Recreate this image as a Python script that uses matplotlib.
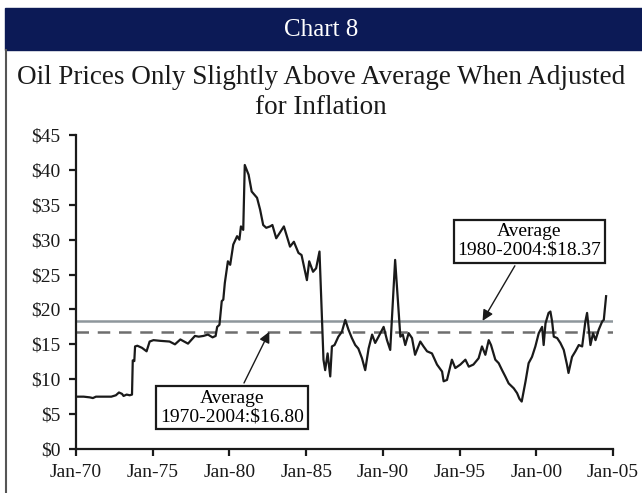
import matplotlib.pyplot as plt
from matplotlib.patches import Rectangle
from matplotlib.lines import Line2D

year = [1970.0, 1970.5, 1970.9, 1971.1, 1971.3, 1971.8, 1972.3, 1972.6, 1972.8, 1973.0,
        1973.1, 1973.3, 1973.5, 1973.65, 1973.7, 1973.8, 1973.85, 1974.0, 1974.3, 1974.6,
        1974.8, 1975.05, 1975.5, 1976.1, 1976.45, 1976.8, 1977.3, 1977.75, 1978.0, 1978.3,
        1978.6, 1978.9, 1979.1, 1979.2, 1979.35, 1979.5, 1979.6, 1979.7, 1979.9, 1980.05,
        1980.25, 1980.5, 1980.65, 1980.75, 1980.9, 1981.0, 1981.25, 1981.45, 1981.8, 1982.0,
        1982.2, 1982.4, 1982.65, 1982.8, 1983.05, 1983.2, 1983.4, 1983.55, 1983.95, 1984.2,
        1984.5, 1984.7, 1985.05, 1985.2, 1985.45, 1985.65, 1985.87, 1986.13, 1986.24, 1986.4,
        1986.57, 1986.68, 1986.85, 1987.1, 1987.33, 1987.55, 1987.76, 1987.98, 1988.2, 1988.4,
        1988.64, 1988.85, 1989.07, 1989.3, 1989.5, 1989.72, 1990.05, 1990.27, 1990.48, 1990.8,
        1990.96, 1991.14, 1991.3, 1991.46, 1991.68, 1991.9, 1992.1, 1992.44, 1992.65, 1992.88,
        1993.2, 1993.53, 1993.86, 1993.96, 1994.18, 1994.5, 1994.72, 1995.05, 1995.38, 1995.6,
        1995.9, 1996.24, 1996.46, 1996.68, 1996.9, 1997.05, 1997.33, 1997.55, 1997.77, 1997.98,
        1998.2, 1998.53, 1998.75, 1998.9, 1999.05, 1999.3, 1999.5, 1999.72, 1999.94, 2000.16,
        2000.38, 2000.48, 2000.6, 2000.8, 2000.92, 2001.03, 2001.14, 2001.36, 2001.57, 2001.79,
        2002.0, 2002.1, 2002.33, 2002.55, 2002.77, 2002.99, 2003.2, 2003.31, 2003.53, 2003.7,
        2003.86, 2004.07, 2004.3, 2004.4, 2004.55]
price = [7.5, 7.5, 7.4, 7.3, 7.5, 7.5, 7.5, 7.7, 8.1, 7.9,
         7.6, 7.8, 7.7, 7.8, 12.7, 12.6, 14.7, 14.8, 14.5, 14.0,
         15.4, 15.6, 15.5, 15.4, 15.0, 15.7, 15.1, 16.2, 16.1, 16.2,
         16.4, 16.0, 16.2, 17.5, 17.8, 21.2, 21.4, 23.8, 26.9, 26.4,
         29.3, 30.5, 30.0, 31.9, 31.4, 40.7, 39.3, 36.9, 36.0, 34.3,
         32.1, 31.7, 31.9, 32.1, 30.2, 30.7, 31.4, 31.9, 29.0, 29.7,
         28.1, 27.8, 24.2, 26.9, 25.4, 25.9, 28.3, 12.8, 11.3, 13.7,
         10.4, 14.7, 14.9, 16.1, 16.8, 18.5, 17.1, 15.9, 14.9, 14.4,
         13.0, 11.3, 14.4, 16.4, 15.2, 16.1, 17.5, 15.6, 14.2, 27.1,
         21.9, 16.1, 16.4, 14.9, 16.6, 15.9, 13.5, 15.4, 14.7, 14.0,
         13.7, 12.1, 11.1, 9.7, 9.9, 12.8, 11.6, 12.1, 12.8, 11.8,
         12.1, 13.0, 14.7, 13.5, 15.6, 14.9, 12.8, 12.3, 11.3, 10.4,
         9.4, 8.7, 8.0, 7.2, 6.8, 9.7, 12.3, 13.2, 14.7, 16.6,
         17.5, 14.9, 18.0, 19.5, 19.7, 18.3, 16.1, 15.9, 15.2, 14.2,
         12.1, 10.9, 13.2, 14.0, 14.9, 14.7, 18.3, 19.5, 14.9, 16.6,
         15.6, 17.1, 18.3, 18.5, 21.9]

avg_1970 = 16.80
avg_1980 = 18.37
xticks = [1970, 1975, 1980, 1985, 1990, 1995, 2000, 2005]
xlabels = ['Jan-70', 'Jan-75', 'Jan-80', 'Jan-85', 'Jan-90', 'Jan-95', 'Jan-00', 'Jan-05']
yticks = [0, 5, 10, 15, 20, 25, 30, 35, 40, 45]

plt.rcParams['font.family'] = ['Liberation Serif', 'DejaVu Serif']

fig = plt.figure(figsize=(6.42, 4.93), dpi=100)

# navy header band + left border line
fig.patches.append(Rectangle((5 / 642, 1 - 50 / 493), 1, 42 / 493,
                             transform=fig.transFigure, color='#0c1a56', zorder=0))
fig.lines.append(Line2D([6 / 642, 6 / 642], [0, 1 - 50 / 493], transform=fig.transFigure,
                        color='#555555', lw=1.5))
fig.text(0.5, 1 - 30 / 493, 'Chart 8', color='white', fontsize=18, ha='center', va='center')
fig.text(0.5, 1 - 78 / 493, 'Oil Prices Only Slightly Above Average When Adjusted',
         fontsize=19.5, ha='center', va='center', color='#1a1a1a')
fig.text(0.5, 1 - 107 / 493, 'for Inflation', fontsize=19.5, ha='center', va='center',
         color='#1a1a1a')

ax = fig.add_axes([76 / 642, 1 - 449 / 493, (613 - 76) / 642, (449 - 135) / 493])
ax.plot(year, price, color='#1a1a1a', lw=1.6, zorder=3)
ax.axhline(avg_1980, color='#8e979c', lw=1.8, zorder=2)
ax.axhline(avg_1970, color='#6e6e6e', lw=1.8, ls=(0, (5, 3.5)), zorder=2)

box = dict(boxstyle='square,pad=0.2', fc='white', ec='#1a1a1a', lw=1.6)
arrow = dict(arrowstyle='-|>', color='#1a1a1a', lw=1, mutation_scale=16, shrinkA=2, shrinkB=0)
ax.annotate('Average\n1970-2004:$%.2f' % avg_1970, xy=(1982.6, avg_1970), xytext=(1980.15, 5.9),
            ha='center', va='center', fontsize=14, linespacing=1.1, bbox=box,
            arrowprops=arrow, zorder=5)
ax.annotate('Average\n1980-2004:$%.2f' % avg_1980, xy=(1996.5, avg_1980), xytext=(1999.55, 29.8),
            ha='center', va='center', fontsize=14, linespacing=1.1, bbox=box,
            arrowprops=arrow, zorder=5)

ax.set_xlim(1970, 2005)
ax.set_ylim(0, 45)
ax.set_xticks(xticks)
ax.set_xticklabels(xlabels)
ax.set_yticks(yticks)
ax.set_yticklabels(['$%d' % v for v in yticks])
for s in ['top', 'right']:
    ax.spines[s].set_visible(False)
for s in ['left', 'bottom']:
    ax.spines[s].set_linewidth(1.6)
    ax.spines[s].set_color('#1a1a1a')
ax.tick_params(axis='both', direction='out', length=5, width=1.6, labelsize=14,
               colors='#1a1a1a', pad=6)

plt.savefig('out.png', dpi=100)
